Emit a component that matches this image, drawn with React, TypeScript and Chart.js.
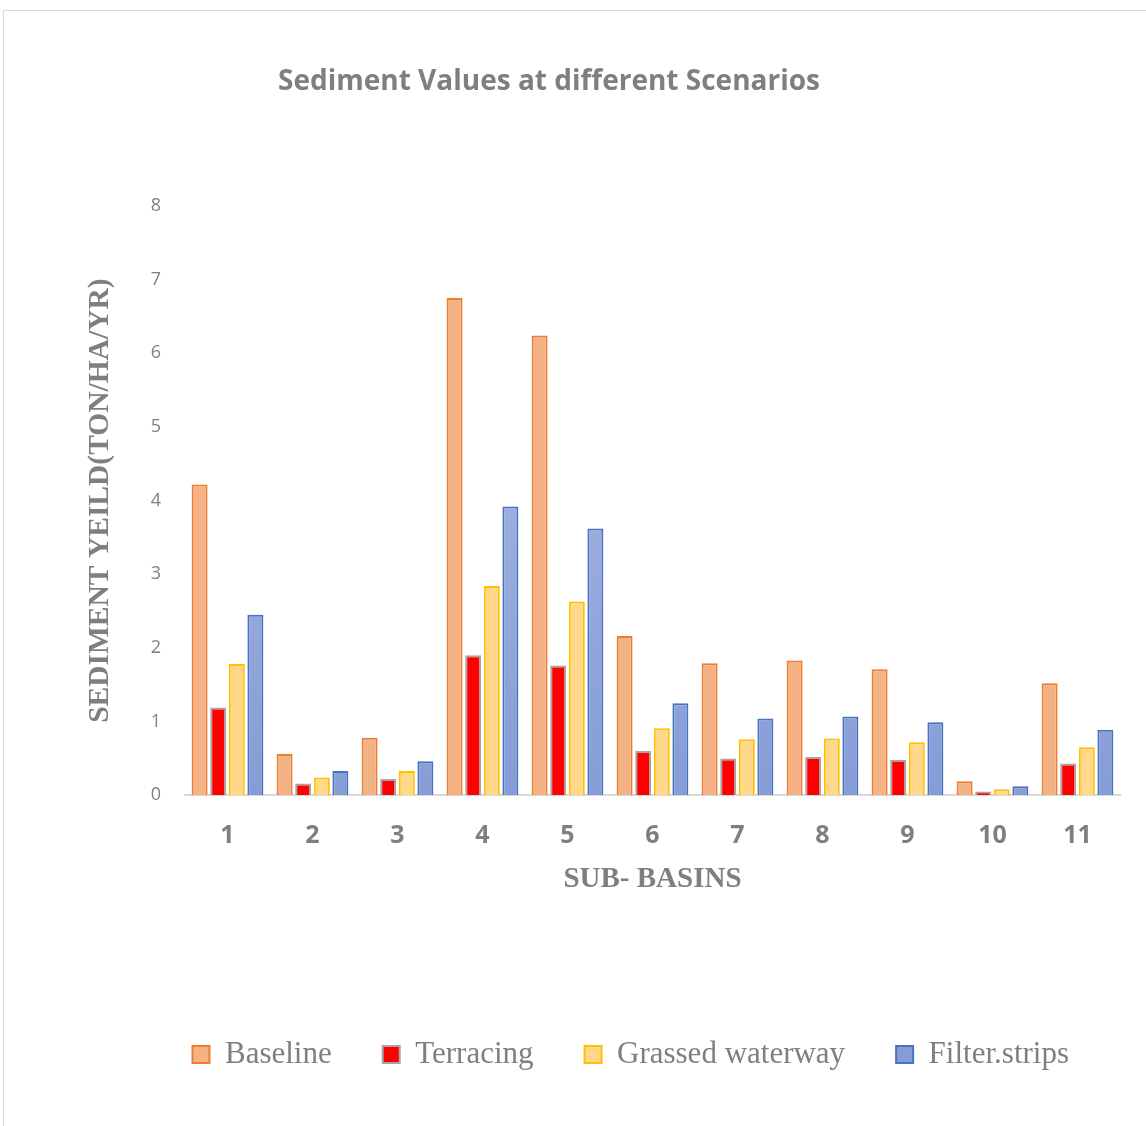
import React, { useEffect, useRef } from "react";
import { Chart, registerables } from "chart.js";

Chart.register(...registerables);

const categories = ["1", "2", "3", "4", "5", "6", "7", "8", "9", "10", "11"];
const baseline = [4.22, 0.56, 0.78, 6.75, 6.24, 2.16, 1.79, 1.83, 1.71, 0.19, 1.52];
const terracing = [1.19, 0.16, 0.22, 1.9, 1.76, 0.6, 0.5, 0.52, 0.48, 0.05, 0.43];
const grassedWaterway = [1.78, 0.24, 0.33, 2.84, 2.63, 0.91, 0.76, 0.77, 0.72, 0.08, 0.65];
const filterStrips = [2.45, 0.33, 0.46, 3.92, 3.62, 1.25, 1.04, 1.07, 0.99, 0.12, 0.89];
const seriesNames = ["Baseline", "Terracing", "Grassed waterway", "Filter.strips"];
const yMin = 0;
const yMax = 8;
const yStep = 1;

const chartTitle = "Sediment Values at different Scenarios";
const xTitle = "SUB- BASINS";
const yTitle = "SEDIMENT YEILD(TON/HA/YR)";

const GRAY = "#7f7f7f";

export default function App() {
  const canvasRef = useRef<HTMLCanvasElement | null>(null);

  useEffect(() => {
    const canvas = canvasRef.current;
    if (!canvas) return;

    const filterFill = (ctx: any) => {
      const chart = ctx.chart;
      const area = chart.chartArea;
      if (!area) return "#98abdc";
      const g = chart.ctx.createLinearGradient(0, area.top, 0, area.bottom);
      g.addColorStop(0, "#b3c0e5");
      g.addColorStop(1, "#869cd6");
      return g;
    };

    const chart = new Chart(canvas, {
      type: "bar",
      data: {
        labels: categories,
        datasets: [
          {
            label: seriesNames[0],
            data: baseline,
            backgroundColor: "#f4b183",
            borderColor: "#ed7d31",
            borderWidth: 2,
          },
          {
            label: seriesNames[1],
            data: terracing,
            backgroundColor: "#ff0000",
            borderColor: "#a5a5a5",
            borderWidth: 2,
          },
          {
            label: seriesNames[2],
            data: grassedWaterway,
            backgroundColor: "#ffd88a",
            borderColor: "#ffc000",
            borderWidth: 2,
          },
          {
            label: seriesNames[3],
            data: filterStrips,
            backgroundColor: filterFill,
            borderColor: "#4472c4",
            borderWidth: 2,
          },
        ],
      },
      options: {
        responsive: false,
        animation: false,
        devicePixelRatio: 1,
        datasets: {
          bar: {
            categoryPercentage: 0.875,
            barPercentage: 0.86,
          },
        },
        layout: {
          padding: { top: 0, left: -22, right: 26, bottom: 46 },
        },
        plugins: {
          title: {
            display: true,
            text: chartTitle,
            color: GRAY,
            font: { family: "'Open Sans'", size: 28, weight: "bold", lineHeight: 1.2 },
            padding: { top: 65.2, bottom: 107.2 },
          },
          legend: {
            display: true,
            position: "bottom",
            align: "end",
            fullSize: true,
            labels: {
              color: GRAY,
              font: { family: "'Liberation Serif'", size: 31, lineHeight: 1.2 },
              boxWidth: 17,
              boxHeight: 17,
              padding: 51,
            },
          },
          tooltip: { enabled: false },
        },
        scales: {
          x: {
            grid: {
              display: true,
              drawOnChartArea: false,
              drawTicks: true,
              tickLength: 25.4,
              color: "rgba(0,0,0,0)",
              tickColor: "rgba(0,0,0,0)",
            },
            border: { display: true, color: "#d9d9d9", width: 2 },
            ticks: {
              color: GRAY,
              padding: 0,
              font: { family: "'Open Sans'", size: 25, weight: "bold", lineHeight: 1.2 },
            },
            title: {
              display: true,
              text: xTitle,
              color: GRAY,
              font: { family: "'Liberation Serif'", size: 29, weight: "bold", lineHeight: 1.2 },
              padding: { top: 12, bottom: 90.6 },
            },
          },
          y: {
            min: yMin,
            max: yMax,
            grid: { display: false, drawTicks: false },
            border: { display: false },
            ticks: {
              stepSize: yStep,
              color: "#808080",
              padding: 24,
              font: { family: "'Open Sans'", size: 18, lineHeight: 1.2 },
            },
            title: {
              display: true,
              text: yTitle,
              color: GRAY,
              font: { family: "'Liberation Serif'", size: 29.5, weight: "bold", lineHeight: 1.2 },
              padding: { top: 104.3, bottom: 9 },
            },
          },
        },
      },
    });

    return () => {
      chart.destroy();
    };
  }, []);

  return (
    <div style={{ position: "absolute", left: 0, top: 0, width: 1146, height: 1126, background: "#ffffff", overflow: "hidden" }}>
      <div
        style={{
          position: "absolute",
          left: 3,
          top: 10,
          width: 1160,
          height: 1140,
          borderTop: "1px solid #d9d9d9",
          borderLeft: "1px solid #d9d9d9",
        }}
      />
      <canvas
        ref={canvasRef}
        width={1146}
        height={1126}
        style={{ position: "absolute", left: 0, top: 0, width: 1146, height: 1126 }}
      />
    </div>
  );
}
